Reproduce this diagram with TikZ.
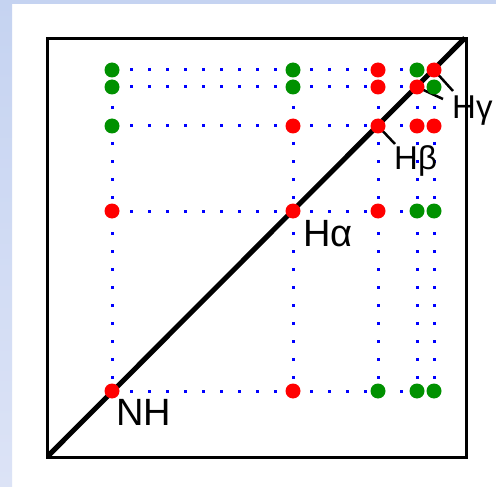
\documentclass[tikz,border=0pt]{standalone}
\usepackage{fontspec}
\setmainfont{Liberation Sans}
\definecolor{bandtop}{HTML}{C5D3F1}
\definecolor{bandbot}{HTML}{DCE3F6}
\definecolor{pkred}{HTML}{FF0000}
\definecolor{pkgreen}{HTML}{009100}
\begin{document}
\begin{tikzpicture}[x=1pt,y=-1pt,
  gridline/.style={blue, line width=3pt, dash pattern=on 3pt off 15pt},
  peak/.style={circle, inner sep=0pt, minimum size=15pt},
  rp/.style={peak, fill=pkred},
  gp/.style={peak, fill=pkgreen},
  lbl/.style={inner sep=0pt, anchor=base west, font=\fontsize{38}{38}\selectfont},
  slbl/.style={lbl, font=\fontsize{33}{33}\selectfont},
  lead/.style={black, line width=2.5pt}]

\useasboundingbox (0,0) rectangle (496,487);
\fill[white] (0,0) rectangle (496,487);
\shade[top color=bandtop, bottom color=bandbot] (0,0) rectangle (12,487);
\fill[bandtop] (0,0) rectangle (496,4);

% grid points
\foreach \x [count=\i] in {112,293,378,417,434}
  \foreach \y [count=\j] in {70,87,126,211,391}
    \coordinate (p\i\j) at (\x,\y);

% dotted grid
\foreach \j in {1,...,5} \draw[gridline] (p1\j) -- (p5\j);
\foreach \i in {1,...,5} \draw[gridline] (p\i1) -- (p\i5);

% frame and diagonal
\draw[line width=3pt] (47,39) rectangle (466,457);
\draw[line width=5pt] (48,456) -- (465,38);

% leader lines
\coordinate (lb) at (395,144);
\coordinate (lg1) at (453,91);
\coordinate (lg2) at (443,99);
\draw[lead] (p33) -- (lb);
\draw[lead] (p51) -- (lg1);
\draw[lead] (p42) -- (lg2);

% peaks: row y=70
\node[gp] (n11) at (p11) {};
\node[gp] (n21) at (p21) {};
\node[rp] (n31) at (p31) {};
\node[gp] (n41) at (p41) {};
\node[rp] (n51) at (p51) {};
% row y=87
\node[gp] (n12) at (p12) {};
\node[gp] (n22) at (p22) {};
\node[rp] (n32) at (p32) {};
\node[rp] (n42) at (p42) {};
\node[gp] (n52) at (p52) {};
% row y=126
\node[gp] (n13) at (p13) {};
\node[rp] (n23) at (p23) {};
\node[rp] (n33) at (p33) {};
\node[rp] (n43) at (p43) {};
\node[rp] (n53) at (p53) {};
% row y=211
\node[rp] (n14) at (p14) {};
\node[rp] (n24) at (p24) {};
\node[rp] (n34) at (p34) {};
\node[gp] (n44) at (p44) {};
\node[gp] (n54) at (p54) {};
% row y=391
\node[rp] (n15) at (p15) {};
\node[rp] (n25) at (p25) {};
\node[gp] (n35) at (p35) {};
\node[gp] (n45) at (p45) {};
\node[gp] (n55) at (p55) {};

% labels
\node[lbl] (tNH) at (116,425) {NH};
\node[lbl] (tHa) at (303,246) {Hα};
\node[slbl] (tHb) at (394,169) {Hβ};
\node[slbl] (tHg) at (452,119) {Hγ};
\end{tikzpicture}
\end{document}
